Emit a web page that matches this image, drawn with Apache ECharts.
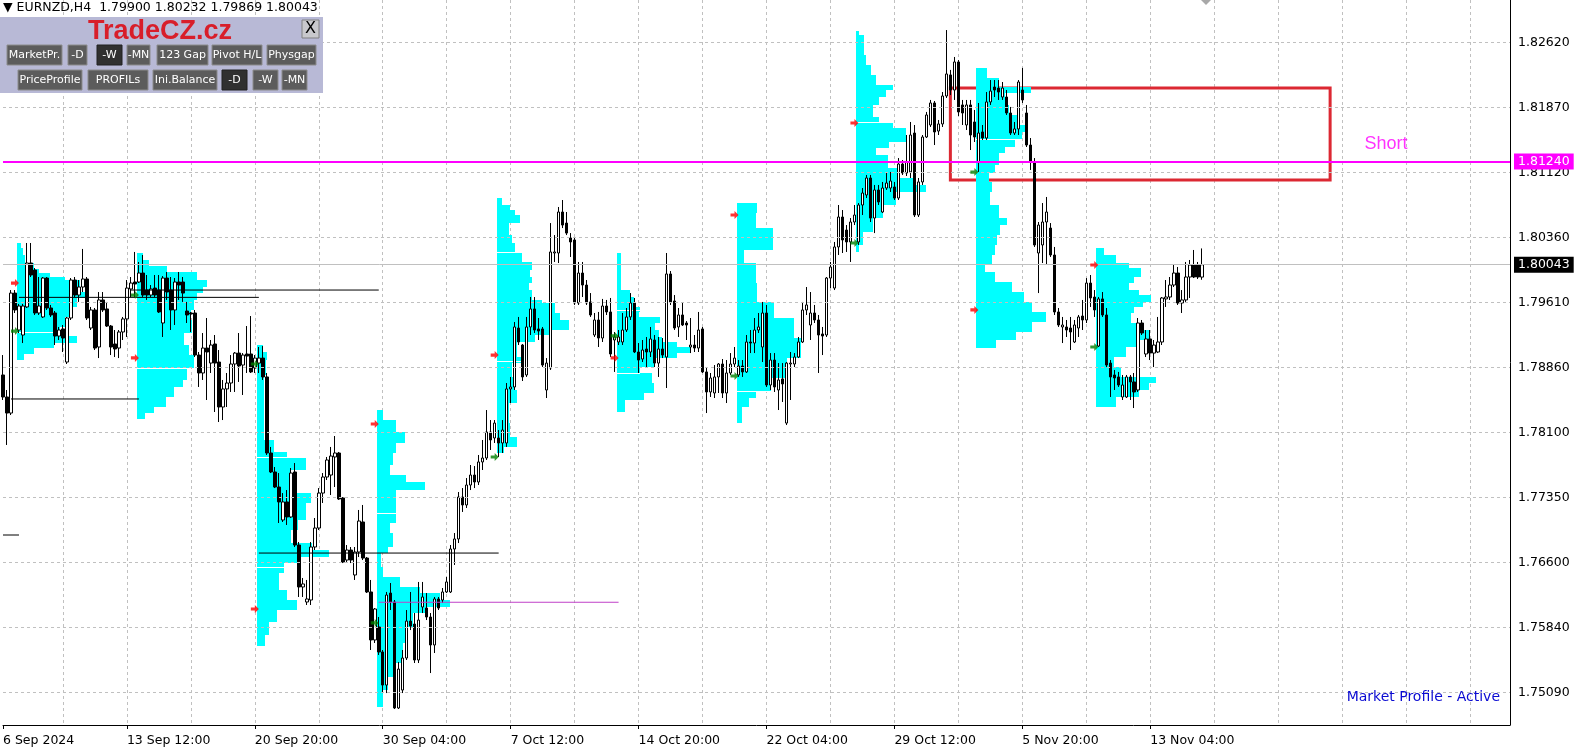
<!DOCTYPE html>
<html><head><meta charset="utf-8">
<script src="https://cdn.jsdelivr.net/npm/echarts@6.0.0/dist/echarts.min.js"></script>
<style>html,body{margin:0;padding:0;background:#fff;}#c{width:1582px;height:750px;}</style>
</head><body><div id="c"></div>
<script>
// ---- candles: [open, close, low, high], one per H4 bar starting 6 Sep 2024 08:00
const candles = [
[1.78766,1.78511,1.78476,1.78997],[1.78511,1.78325,1.77955,1.78592],[1.78325,1.79715,1.78302,1.79750],[1.79715,1.79519,1.79484,1.79750],[1.79287,1.79565,1.79252,1.79589],
[1.79229,1.79565,1.79136,1.79589],[1.79554,1.80063,1.79542,1.80295],[1.80063,1.79924,1.79901,1.80295],[1.79982,1.79484,1.79461,1.80005],[1.79484,1.79565,1.79461,1.79901],
[1.79438,1.79889,1.79426,1.79901],[1.79889,1.79542,1.79519,1.79901],[1.79542,1.79461,1.79438,1.79577],[1.79484,1.79217,1.79113,1.79507],[1.79217,1.79287,1.79171,1.79322],
[1.79299,1.79194,1.79032,1.79345],[1.78916,1.79426,1.78893,1.79438],[1.79426,1.79866,1.79403,1.79889],[1.79866,1.79692,1.79669,1.79901],[1.79692,1.79785,1.79612,1.79866],
[1.79785,1.79878,1.79727,1.80226],[1.79878,1.79426,1.79403,1.79901],[1.79310,1.79519,1.79287,1.79554],[1.79519,1.79078,1.79055,1.79542],[1.79090,1.79635,1.78962,1.79727],
[1.79635,1.79519,1.79496,1.79727],[1.79531,1.79333,1.79322,1.79612],[1.79333,1.79090,1.78997,1.79345],[1.79125,1.79067,1.78974,1.79287],[1.79078,1.79264,1.78962,1.79287],
[1.79264,1.79415,1.79171,1.79438],[1.79415,1.79773,1.79206,1.79866],[1.79762,1.79831,1.79669,1.79901],[1.79843,1.79820,1.79669,1.80191],[1.79843,1.79947,1.79831,1.80075],
[1.79947,1.79692,1.79669,1.80156],[1.79750,1.79692,1.79635,1.79924],[1.79692,1.79762,1.79669,1.79808],[1.79773,1.79692,1.79669,1.79924],[1.79750,1.79496,1.79484,1.79924],
[1.79368,1.79889,1.79206,1.79912],[1.79889,1.79727,1.79635,1.79959],[1.79750,1.79519,1.79287,1.79901],[1.79519,1.79843,1.79345,1.79889],[1.79843,1.79808,1.79635,1.79959],
[1.79843,1.79715,1.79612,1.79901],[1.79507,1.79461,1.79368,1.79612],[1.79484,1.79473,1.79264,1.79496],[1.79484,1.78997,1.78974,1.79519],[1.78997,1.78789,1.78627,1.79032],
[1.78789,1.79078,1.78708,1.79252],[1.79078,1.79032,1.78476,1.79426],[1.78904,1.79113,1.78789,1.79171],[1.79125,1.78904,1.78337,1.79229],[1.78916,1.78395,1.78221,1.79055],
[1.78395,1.78604,1.78244,1.78708],[1.78604,1.78673,1.78395,1.78789],[1.78673,1.78893,1.78569,1.78997],[1.78893,1.79020,1.78569,1.79032],[1.79020,1.78870,1.78685,1.79252],
[1.78881,1.78997,1.78534,1.79020],[1.79009,1.78985,1.78789,1.79333],[1.79009,1.78801,1.78789,1.79449],[1.78847,1.78962,1.78789,1.78997],[1.78904,1.78962,1.78789,1.79090],
[1.78962,1.78743,1.78708,1.79101],[1.78743,1.77862,1.77839,1.78789],[1.77862,1.77642,1.77630,1.77932],[1.77642,1.77468,1.77456,1.77700],[1.77468,1.77295,1.77051,1.77630],
[1.77086,1.77295,1.77063,1.77398],[1.77295,1.77121,1.77028,1.77433],[1.77121,1.77630,1.77109,1.77688],[1.77642,1.76796,1.76773,1.77746],[1.76796,1.76310,1.76194,1.76831],
[1.76310,1.76345,1.76194,1.76414],[1.76136,1.76171,1.76101,1.76391],[1.76159,1.76773,1.76101,1.76831],[1.76773,1.76993,1.76738,1.77109],[1.76993,1.77398,1.76970,1.77456],
[1.77398,1.77584,1.77283,1.77630],[1.77584,1.77781,1.77549,1.77816],[1.77607,1.77827,1.77375,1.77932],[1.77816,1.77862,1.77468,1.78059],[1.77862,1.77329,1.77318,1.77874],
[1.77341,1.76599,1.76587,1.77352],[1.76622,1.76738,1.76599,1.76796],[1.76738,1.76622,1.76587,1.76773],[1.76449,1.76715,1.76391,1.76773],[1.76715,1.77074,1.76657,1.77202],
[1.77063,1.76645,1.76622,1.77260],[1.76645,1.76252,1.76240,1.76657],[1.76252,1.75696,1.75580,1.76391],[1.75696,1.76055,1.75661,1.76066],[1.75846,1.75557,1.75522,1.75962],
[1.75557,1.75174,1.75081,1.75580],[1.75174,1.76217,1.75081,1.76252],[1.76240,1.76136,1.76043,1.76356],[1.76136,1.74908,1.74896,1.76159],[1.74908,1.75359,1.74896,1.75441],
[1.75116,1.75487,1.75081,1.75580],[1.75487,1.75915,1.75464,1.76043],[1.75915,1.75857,1.75811,1.76252],[1.75881,1.75464,1.75429,1.76008],[1.75464,1.75927,1.75429,1.76368],
[1.76078,1.76194,1.76008,1.76368],[1.76066,1.75962,1.75927,1.76240],[1.75962,1.75638,1.75313,1.76008],[1.75638,1.76171,1.75545,1.76194],[1.76171,1.76066,1.76043,1.76194],
[1.76159,1.76252,1.76124,1.76298],[1.76252,1.76368,1.76240,1.76426],[1.76252,1.76750,1.76240,1.76796],[1.76750,1.76866,1.76565,1.76935],[1.76866,1.77352,1.76819,1.77410],
[1.77352,1.77260,1.77179,1.77456],[1.77260,1.77491,1.77225,1.77572],[1.77491,1.77607,1.77433,1.77723],[1.77607,1.77526,1.77456,1.77711],[1.77526,1.77758,1.77491,1.77839],
[1.77758,1.77804,1.77665,1.78013],[1.77804,1.78105,1.77781,1.78360],[1.78105,1.78013,1.77897,1.78244],[1.78036,1.78209,1.77978,1.78244],[1.78036,1.77978,1.77816,1.78128],
[1.77978,1.78128,1.77862,1.78244],[1.77978,1.78604,1.77932,1.78673],[1.78604,1.78627,1.78441,1.78743],[1.78627,1.79322,1.78592,1.79380],[1.79310,1.79148,1.79113,1.79438],
[1.79113,1.78743,1.78696,1.79125],[1.78766,1.79322,1.78743,1.79438],[1.79322,1.79531,1.79229,1.79669],[1.79531,1.79287,1.79252,1.79669],[1.79299,1.79275,1.79171,1.79426],
[1.79299,1.78881,1.78858,1.79322],[1.78592,1.78904,1.78499,1.78962],[1.78847,1.80191,1.78824,1.80526],[1.80179,1.80191,1.80075,1.80387],[1.80179,1.80654,1.80063,1.80712],
[1.80654,1.80503,1.80468,1.80793],[1.80526,1.80410,1.80387,1.80654],[1.80353,1.80307,1.80133,1.80410],[1.80330,1.79600,1.79577,1.80353],[1.79600,1.79947,1.79577,1.80075],
[1.79947,1.79808,1.79669,1.80075],[1.79808,1.79600,1.79577,1.79866],[1.79612,1.79461,1.79438,1.79715],[1.79229,1.79403,1.79206,1.79484],[1.79403,1.79194,1.79090,1.79496],
[1.79194,1.79565,1.79148,1.79647],[1.79565,1.79496,1.79461,1.79635],[1.79496,1.79009,1.78974,1.79658],[1.79171,1.79206,1.78801,1.79264],[1.79148,1.79206,1.79113,1.79287],
[1.79148,1.79287,1.79113,1.79484],[1.79287,1.79438,1.79264,1.79542],[1.79438,1.79600,1.79403,1.79715],[1.79600,1.79032,1.79020,1.79658],[1.79032,1.78939,1.78789,1.79136],
[1.78951,1.79055,1.78916,1.79171],[1.79067,1.79032,1.78847,1.79206],[1.79032,1.79183,1.78974,1.79322],[1.79171,1.78904,1.78858,1.79229],[1.78904,1.79067,1.78743,1.79206],
[1.79067,1.78997,1.78962,1.79194],[1.78974,1.79936,1.78615,1.80179],[1.79936,1.79612,1.79577,1.79970],[1.79623,1.79310,1.79287,1.79692],[1.79322,1.79461,1.79206,1.79542],
[1.79461,1.79345,1.79333,1.79600],[1.79368,1.79345,1.79171,1.79391],[1.79090,1.79113,1.79020,1.79426],[1.79113,1.79078,1.79032,1.79229],[1.79078,1.79287,1.79032,1.79496],
[1.79299,1.78801,1.78789,1.79322],[1.78801,1.78569,1.78325,1.78847],[1.78569,1.78731,1.78511,1.78789],[1.78557,1.78743,1.78499,1.78881],[1.78743,1.78893,1.78557,1.78904],
[1.78893,1.78557,1.78499,1.78951],[1.78557,1.78789,1.78441,1.78939],[1.78789,1.78893,1.78766,1.79020],[1.78893,1.78962,1.78858,1.79090],[1.78766,1.78870,1.78743,1.78939],
[1.78870,1.78801,1.78743,1.78939],[1.78801,1.79148,1.78789,1.79229],[1.79148,1.79136,1.79020,1.79287],[1.79136,1.79287,1.79020,1.79426],[1.79287,1.79322,1.79252,1.79484],
[1.79090,1.79484,1.78916,1.79612],[1.79484,1.78650,1.78627,1.79577],[1.78650,1.78939,1.78592,1.79020],[1.78939,1.78627,1.78569,1.79020],[1.78592,1.78708,1.78360,1.78904],
[1.78720,1.78662,1.78453,1.78904],[1.78209,1.78904,1.78186,1.78916],[1.78893,1.78904,1.78476,1.79032],[1.78893,1.78974,1.78858,1.79020],[1.78974,1.79148,1.78962,1.79206],
[1.79148,1.79519,1.79136,1.79612],[1.79519,1.79577,1.79461,1.79785],[1.79345,1.79484,1.79171,1.79727],[1.79484,1.79403,1.79368,1.79577],[1.79403,1.79229,1.78789,1.79461],
[1.79241,1.79217,1.78997,1.79322],[1.79229,1.79889,1.79206,1.79901],[1.79889,1.80017,1.79773,1.80075],[1.79773,1.80249,1.79750,1.80307],[1.80249,1.80596,1.80156,1.80735],
[1.80596,1.80330,1.80179,1.80677],[1.80445,1.80307,1.80191,1.80503],[1.80307,1.80538,1.80075,1.80584],[1.80538,1.80619,1.80503,1.80735],[1.80307,1.80735,1.80272,1.80758],
[1.80735,1.80874,1.80619,1.80932],[1.80851,1.81048,1.80816,1.81083],[1.81048,1.80584,1.80538,1.81083],[1.80584,1.80909,1.80410,1.80967],[1.80909,1.80770,1.80735,1.80967],
[1.80654,1.80932,1.80642,1.81002],[1.80932,1.80990,1.80909,1.81106],[1.80932,1.81013,1.80886,1.81118],[1.80944,1.80816,1.80793,1.81002],[1.80816,1.81210,1.80793,1.81279],
[1.81210,1.81106,1.81083,1.81256],[1.81106,1.81233,1.81071,1.81546],[1.81118,1.81546,1.81048,1.81697],[1.81569,1.80619,1.80596,1.81662],[1.80619,1.81002,1.80596,1.81048],
[1.81002,1.81523,1.80967,1.81546],[1.81523,1.81778,1.81511,1.81813],[1.81662,1.81917,1.81639,1.81952],[1.81917,1.81581,1.81430,1.81940],[1.81592,1.81674,1.81546,1.81720],
[1.81674,1.81998,1.81639,1.82044],[1.81998,1.82253,1.81975,1.82762],[1.82242,1.82067,1.82009,1.82300],[1.82067,1.82392,1.81952,1.82450],[1.82392,1.81813,1.81766,1.82415],
[1.81894,1.81801,1.81662,1.81952],[1.81662,1.81894,1.81604,1.81952],[1.81894,1.81546,1.81372,1.81952],[1.81697,1.81523,1.81465,1.81836],[1.81233,1.81569,1.81118,1.81917],
[1.81581,1.81511,1.81488,1.81662],[1.81511,1.81929,1.81488,1.82044],[1.81929,1.82055,1.81894,1.82183],[1.82102,1.82067,1.81986,1.82183],[1.82090,1.82044,1.81952,1.82183],
[1.81986,1.82090,1.81952,1.82160],[1.81986,1.81801,1.81778,1.82067],[1.81801,1.81569,1.81546,1.81871],[1.81569,1.81616,1.81546,1.81697],[1.81616,1.82160,1.81546,1.82183],
[1.82067,1.81952,1.81917,1.82323],[1.81801,1.81430,1.81407,1.81894],[1.81430,1.81233,1.81141,1.81511],[1.81233,1.80272,1.80249,1.81279],[1.80179,1.80503,1.79715,1.80538],
[1.80272,1.80538,1.80063,1.80758],[1.80538,1.80654,1.80040,1.80828],[1.80468,1.80156,1.80133,1.80526],[1.80156,1.79496,1.79461,1.80249],[1.79496,1.79345,1.79322,1.79542],
[1.79322,1.79345,1.79136,1.79438],[1.79322,1.79287,1.79206,1.79403],[1.79310,1.79264,1.79055,1.79438],[1.79148,1.79345,1.79136,1.79403],[1.79310,1.79438,1.79206,1.79461],
[1.79449,1.79403,1.79287,1.79635],[1.79403,1.79831,1.79368,1.79889],[1.79831,1.79658,1.79554,1.79924],[1.79669,1.79519,1.79438,1.79750],[1.79101,1.79647,1.79090,1.79669],
[1.79647,1.79461,1.79438,1.79727],[1.79461,1.78881,1.78858,1.79542],[1.78904,1.78743,1.78511,1.78939],[1.78766,1.78731,1.78592,1.78824],[1.78743,1.78650,1.78627,1.78801],
[1.78511,1.78650,1.78476,1.78766],[1.78511,1.78743,1.78499,1.78766],[1.78743,1.78685,1.78476,1.78766],[1.78685,1.78569,1.78383,1.78789],[1.78592,1.79368,1.78569,1.79426],
[1.79368,1.79252,1.79229,1.79403],[1.79009,1.79183,1.78974,1.79287],[1.79183,1.79020,1.78939,1.79287],[1.79020,1.79113,1.78858,1.79171],[1.79032,1.79148,1.79020,1.79438],
[1.79148,1.79658,1.79113,1.79669],[1.79647,1.79669,1.79554,1.79866],[1.79669,1.79808,1.79635,1.79901],[1.79808,1.79947,1.79785,1.80040],[1.79947,1.79600,1.79577,1.80017],
[1.79600,1.79635,1.79484,1.79750],[1.79635,1.79901,1.79612,1.80075],[1.79901,1.80040,1.79658,1.80098],[1.80040,1.79901,1.79889,1.80214],[1.80040,1.79901,1.79878,1.80075],
[1.79900,1.80043,1.79869,1.80232]
];

// ---- weekly market profiles: rows of [row top price, TPO width in bars]; last row = bottom
const profileStarts = [4, 34, 64, 94, 124, 154, 184, 214, 244, 274];
const profA = [[1.80291,1],[1.80233,1.5],[1.80156,2],[1.80060,4.25],[1.79990,5.5],[1.79951,8.25],[1.79904,12],[1.79866,15.75],[1.79731,18],[1.79654,15],[1.79557,13.25],[1.79441,12],[1.79325,10.75],[1.79267,9.5],[1.79217,15],[1.79133,9.25],[1.79075,4.25],[1.79009,1.75],[1.78940,0]];
const profB = [[1.80179,1.5],[1.80098,3],[1.80028,7.5],[1.79959,15],[1.79866,17.5],[1.79785,16.5],[1.79715,15],[1.79635,14.25],[1.79519,13.5],[1.79403,13.75],[1.79252,11.75],[1.79113,13],[1.78997,14.25],[1.78847,12.5],[1.78708,11.5],[1.78627,9.25],[1.78511,7.25],[1.78395,4.25],[1.78325,2],[1.78255,0]];
const profC = [[1.79113,1.5],[1.79032,2.5],[1.78939,2.25],[1.78766,1.75],[1.78013,4.25],[1.77874,7.5],[1.77804,12.25],[1.77665,8.5],[1.77549,10],[1.77398,13.5],[1.77283,12.25],[1.77086,10.25],[1.76970,8.5],[1.76819,13.75],[1.76738,18],[1.76657,10],[1.76587,6.75],[1.76472,5.5],[1.76275,7.5],[1.76159,10],[1.76043,5],[1.75904,3],[1.75754,2],[1.75626,0]];
const profD = [[1.78360,1.5],[1.78244,4.75],[1.78105,7],[1.77978,4.75],[1.77862,4],[1.77723,3.25],[1.77607,7.25],[1.77526,12],[1.77433,4.75],[1.77167,4.75],[1.77051,3.25],[1.76935,4],[1.76773,2.75],[1.76703,1],[1.76541,1.5],[1.76426,5.75],[1.76310,10.75],[1.76240,15.75],[1.76159,18.25],[1.76078,12.25],[1.76008,9],[1.75846,7.75],[1.75661,6.5],[1.75429,4.75],[1.75267,2.75],[1.75116,1.5],[1.74920,0]];
const profE = [[1.80816,1.25],[1.80735,3.25],[1.80677,4.5],[1.80619,5.75],[1.80526,3],[1.80387,3.75],[1.80295,4.5],[1.80179,6.25],[1.80075,8.75],[1.79982,8.25],[1.79901,8.75],[1.79831,8],[1.79750,8.75],[1.79635,11.25],[1.79600,14.5],[1.79484,15.75],[1.79403,18],[1.79287,13.25],[1.79229,9.5],[1.79148,5],[1.78974,6.25],[1.78904,3.75],[1.78743,4.5],[1.78592,5],[1.78441,3],[1.78209,3.25],[1.78047,5],[1.77932,1.75],[1.77862,0]];
const profF = [[1.80179,1],[1.79750,3.25],[1.79669,4.25],[1.79554,5.75],[1.79496,5.5],[1.79438,10.75],[1.79368,9.5],[1.79287,10.5],[1.79206,11.25],[1.79148,15],[1.79090,18.25],[1.79020,15],[1.78962,9.5],[1.78858,5.75],[1.78789,8.75],[1.78673,9.25],[1.78557,6.75],[1.78476,2],[1.78337,0]];
const profG = [[1.80758,5],[1.80642,4.75],[1.80468,9],[1.80214,1.75],[1.80063,4.75],[1.79831,5],[1.79612,9.25],[1.79426,14.25],[1.79194,16],[1.78962,12.5],[1.78731,8.5],[1.78569,4.75],[1.78499,3],[1.78395,1.25],[1.78210,0]];
const profH = [[1.82751,0.75],[1.82705,2],[1.82473,2.5],[1.82357,3.75],[1.82242,5],[1.82125,9.25],[1.82067,7.5],[1.81986,5.75],[1.81894,4.25],[1.81755,5.75],[1.81685,9.25],[1.81627,12.5],[1.81465,8.25],[1.81395,5],[1.81314,8],[1.81164,10.75],[1.81048,15],[1.80967,17.5],[1.80886,10],[1.80735,6.75],[1.80584,4.25],[1.80422,1.75],[1.80272,0.75],[1.80191,0]];
const profI = [[1.82322,2.75],[1.82206,5.75],[1.82102,13.75],[1.82033,7.25],[1.81894,8.25],[1.81778,10.75],[1.81662,12.75],[1.81581,11.5],[1.81488,9.75],[1.81407,7.25],[1.81337,5.75],[1.81198,4.75],[1.81106,3.25],[1.81002,4],[1.80886,3.5],[1.80735,5.75],[1.80584,7.75],[1.80503,6],[1.80387,5.25],[1.80272,4.75],[1.80156,4],[1.80040,2.25],[1.79959,4.75],[1.79843,9],[1.79727,12],[1.79612,14],[1.79496,17.5],[1.79380,14],[1.79264,10],[1.79171,5],[1.79078,0]];
const profJ = [[1.80237,2],[1.80156,5],[1.80063,8.25],[1.80005,11.25],[1.79901,9.5],[1.79831,8.25],[1.79750,10.75],[1.79692,13.75],[1.79612,11.75],[1.79554,9.5],[1.79484,8.75],[1.79368,12],[1.79287,13.25],[1.79171,10.75],[1.79090,7.5],[1.78974,4.5],[1.78858,6.25],[1.78743,15],[1.78673,13.25],[1.78592,10.75],[1.78511,5],[1.78395,0]];
const profiles = [profA, profB, profC, profD, profE, profF, profG, profH, profI, profJ];
// white value-area marks inside profiles: [profile number, price]
const profileMarks = [[0,1.79268],[1,1.78847],[2,1.77819],[2,1.76541],[3,1.77163],[4,1.80191],[4,1.78931],[5,1.79519],[5,1.78793],[6,1.78580],[7,1.81693],[8,1.81500]];

// ---- markers: [bar index, price]
const redArrows = [[3,1.79831],[33,1.78963],[63,1.76055],[93,1.78198],[123,1.78997],[153,1.78963],[183,1.80619],[213,1.81685],[243,1.79519],[273,1.80040]];
const greenArrows = [[3,1.79275],[33,1.79692],[63,1.78893],[93,1.75893],[123,1.77816],[153,1.79218],[183,1.78754],[213,1.80295],[243,1.81117],[273,1.79090]];
// ---- horizontal level segments: [from bar, to bar, price]
const blackLevels = [[2,34,1.78488],[32,94,1.79750],[4,64,1.79665],[0,4,1.76912],[64,124,1.76703]];
const magentaLevels = [[94,154,1.76133]];
const shortLevel = 1.81240;
const bidPrice = 1.80043;
const zoneBox = [[237, 1.82091], [332, 1.81025]];
const shortText = [346, 1.81442];

// ---- axes
const yTicks = [1.82620,1.81867,1.81114,1.80361,1.79608,1.78855,1.78102,1.77349,1.76596,1.75843,1.75090];
const yTickLabels = ['1.82620','1.81870','1.81120','1.80360','1.79610','1.78860','1.78100','1.77350','1.76600','1.75840','1.75090'];
const xTickLabels = ['13 Sep 12:00','20 Sep 20:00','30 Sep 04:00','7 Oct 12:00','14 Oct 20:00','22 Oct 04:00','29 Oct 12:00','5 Nov 20:00','13 Nov 04:00'];
const firstLabel = '6 Sep 2024';
const SLOTS = 378;

const MONTHS = ['Jan','Feb','Mar','Apr','May','Jun','Jul','Aug','Sep','Oct','Nov','Dec'];
const categories = [];
let t = Date.UTC(2024, 8, 6, 8);
while (categories.length < SLOTS) {
  const d = new Date(t);
  const wd = d.getUTCDay();
  if (wd !== 0 && wd !== 6) {
    categories.push(d.getUTCDate() + ' ' + MONTHS[d.getUTCMonth()] + ' ' + String(d.getUTCHours()).padStart(2,'0') + ':00');
  }
  t += 4 * 3600 * 1000;
}
const labelSet = new Set(xTickLabels);
const isLabelIdx = (i, v) => i === 0 || labelSet.has(v !== undefined ? v : categories[i]);
const isGridIdx = (i) => i >= 15 && (i - 15) % 16 === 0;

const profileData = [];
profiles.forEach((rows, k) => {
  for (let r = 0; r < rows.length - 1; r++) {
    profileData.push([profileStarts[k], rows[r][0], rows[r + 1][0], rows[r][1]]);
  }
});
const markData = profileMarks.map(([k, p]) => {
  const rows = profiles[k];
  let w = 0;
  for (let r = 0; r < rows.length - 1; r++) if (p <= rows[r][0] && p > rows[r + 1][0]) w = rows[r][1];
  return [profileStarts[k], p, w];
});

function renderProfile(params, api) {
  const s = api.value(0), pTop = api.value(1), pBot = api.value(2), w = api.value(3);
  if (!w) return;
  const a = api.coord([s, pTop]);
  const b = api.coord([s, pBot]);
  const unit = api.size([1, 0])[0];
  const x = Math.round(a[0] - unit / 2);
  const y1 = Math.round(a[1]), y2 = Math.round(b[1]);
  return { type: 'rect', shape: { x: x, y: y1, width: Math.round(w * unit), height: y2 - y1 }, style: { fill: '#00ffff' } };
}
function renderMark(params, api) {
  const s = api.value(0), p = api.value(1), w = api.value(2);
  const a = api.coord([s, p]);
  const unit = api.size([1, 0])[0];
  return { type: 'rect', shape: { x: Math.round(a[0] - unit / 2), y: Math.round(a[1]), width: Math.round(w * unit), height: 1 }, style: { fill: '#ffffff' } };
}

const FONT = '"DejaVu Sans", Tahoma, sans-serif';
const arrowPath = 'path://M0,3L5,3L5,0L10,5L5,10L5,7L0,7Z';

const series = [
  { type: 'line', data: [], silent: true, z: 0,
    markLine: { silent: true, symbol: ['none','none'], animation: false, precision: 6,
      lineStyle: { color: '#c0c0c0', type: [3,3], width: 1 },
      label: { show: true, position: 'end', distance: 8, color: '#000', fontFamily: FONT, fontSize: 12.5,
        formatter: (p) => yTickLabels[p.dataIndex] },
      data: yTicks.map(v => ({ yAxis: v })) } },
  { type: 'custom', renderItem: renderProfile, data: profileData, encode: { x: 0, y: [1, 2] }, silent: true, z: 1 },
  { type: 'custom', renderItem: renderMark, data: markData, encode: { x: 0, y: 1 }, silent: true, z: 1 },
  { type: 'line', data: [], silent: true, z: 2,
    markLine: { silent: true, symbol: ['none','none'], animation: false, precision: 6,
      data: [{ yAxis: bidPrice, lineStyle: { color: '#c0c0c0', type: 'solid', width: 1 },
        label: { show: true, position: 'end', distance: 4, formatter: '1.80043', color: '#fff', backgroundColor: '#000',
          padding: [2,4,1,4], fontFamily: FONT, fontSize: 12.5 } }] } },
  { type: 'candlestick', data: candles, barWidth: 3, silent: true, z: 3,
    itemStyle: { color: '#ffffff', color0: '#000000', borderColor: '#000000', borderColor0: '#000000', borderWidth: 1 } },
  { type: 'scatter', data: redArrows, symbol: arrowPath, symbolSize: [8, 8], itemStyle: { color: '#ff0000' }, silent: true, z: 5 },
  { type: 'scatter', data: greenArrows, symbol: arrowPath, symbolSize: [8, 8], itemStyle: { color: '#008000' }, silent: true, z: 5 },
  { type: 'line', data: [], silent: true, z: 6,
    markLine: { silent: true, symbol: ['none','none'], animation: false, precision: 6,
      data: [{ yAxis: shortLevel, lineStyle: { color: '#ff00ff', type: 'solid', width: 2 },
        label: { show: true, position: 'end', distance: 4, formatter: '1.81240', color: '#fff', backgroundColor: '#ff00ff',
          padding: [2,4,1,4], fontFamily: FONT, fontSize: 12.5 } }] },
    markArea: { silent: true, animation: false,
      itemStyle: { color: 'rgba(0,0,0,0)', borderColor: '#dc2832', borderWidth: 3 },
      data: [[{ xAxis: zoneBox[0][0], yAxis: zoneBox[0][1] }, { xAxis: zoneBox[1][0], yAxis: zoneBox[1][1] }]] } },
  { type: 'scatter', data: [shortText], symbol: 'circle', symbolSize: 1, itemStyle: { color: 'rgba(0,0,0,0)' }, silent: true, z: 6,
    label: { show: true, position: 'inside', formatter: 'Short', color: '#ff00ff', fontSize: 18, fontFamily: '"Liberation Sans", Arial, sans-serif' } }
];
blackLevels.forEach(([a, b, p]) => series.push({ type: 'line', data: [[a, p], [b, p]], symbol: 'none', silent: true, z: 4,
  lineStyle: { color: '#000', width: 1 } }));
magentaLevels.forEach(([a, b, p]) => series.push({ type: 'line', data: [[a, p], [b, p]], symbol: 'none', silent: true, z: 4,
  lineStyle: { color: '#c040c8', width: 1 } }));

// ---- panel (UI, not data)
const btnRows = [
  { y: 45, items: [['MarketPr.',7,55,0],['-D',68,19,0],['-W',97,25,1],['-MN',127,23,0],['123 Gap',157,51,0],['Pivot H/L',212,50,0],['Physgap',267,49,0]] },
  { y: 70, items: [['PriceProfile',18,64,0],['PROFILs',88,60,0],['Ini.Balance',153,64,0],['-D',222,25,1],['-W',253,25,0],['-MN',282,25,0]] }
];
const graphic = [
  { type: 'text', x: 3, y: 1, z: 100, style: { text: '▼ EURNZD,H4  1.79900 1.80232 1.79869 1.80043', font: '12.5px ' + FONT, fill: '#000' } },
  { type: 'rect', z: 100, shape: { x: 0, y: 17, width: 323, height: 76 }, style: { fill: '#b8b9d6' } },
  { type: 'text', z: 101, x: 160, y: 32, style: { text: 'TradeCZ.cz', font: 'bold 27px "Liberation Sans", Arial, sans-serif', fill: '#d81e2a', align: 'center', verticalAlign: 'middle' } },
  { type: 'rect', z: 101, shape: { x: 302, y: 20, width: 17, height: 18 }, style: { fill: '#c8c8cc', stroke: '#808080', lineWidth: 1 } },
  { type: 'text', z: 102, x: 310.5, y: 29, style: { text: 'X', font: '16px ' + FONT, fill: '#000', align: 'center', verticalAlign: 'middle' } },
  { type: 'text', z: 100, x: 1500, y: 697, style: { text: 'Market Profile - Active', font: '14px ' + FONT, fill: '#0a0ad2', align: 'right', verticalAlign: 'middle' } },
  { type: 'polygon', z: 100, shape: { points: [[1201,0],[1211,0],[1206,5]] }, style: { fill: '#a8a8a8' } }
];
btnRows.forEach(row => row.items.forEach(([txt, x, w, dark]) => {
  graphic.push({ type: 'rect', z: 101, shape: { x: x, y: row.y, width: w, height: 20 },
    style: { fill: dark ? '#303030' : '#5c5c5c', stroke: dark ? '#202020' : '#8c8c8c', lineWidth: 1 } });
  graphic.push({ type: 'text', z: 102, x: x + w / 2, y: row.y + 10,
    style: { text: txt, font: '11px ' + FONT, fill: '#ffffff', align: 'center', verticalAlign: 'middle' } });
}));

const chart = echarts.init(document.getElementById('c'), null, { renderer: 'canvas' });
chart.setOption({
  animation: false,
  backgroundColor: '#ffffff',
  grid: { left: 2, right: 72, top: 0, bottom: 25, containLabel: false },
  xAxis: {
    type: 'category', data: categories, boundaryGap: false,
    axisLine: { show: true, lineStyle: { color: '#000', width: 1 } },
    axisTick: { show: true, length: 4, interval: isLabelIdx, lineStyle: { color: '#000' } },
    axisLabel: { show: true, interval: isLabelIdx, align: 'left', margin: 9, color: '#000', fontFamily: FONT, fontSize: 12.5,
      formatter: (v, i) => (i === 0 ? firstLabel : v) },
    splitLine: { show: true, interval: isGridIdx, lineStyle: { color: '#c0c0c0', type: [3,3], width: 1 } }
  },
  yAxis: {
    type: 'value', position: 'right', min: 1.74711, max: 1.83110,
    axisLine: { show: true, lineStyle: { color: '#000', width: 1 } },
    axisTick: { show: false }, axisLabel: { show: false }, splitLine: { show: false }
  },
  graphic: graphic,
  series: series
});
</script>
</body></html>
